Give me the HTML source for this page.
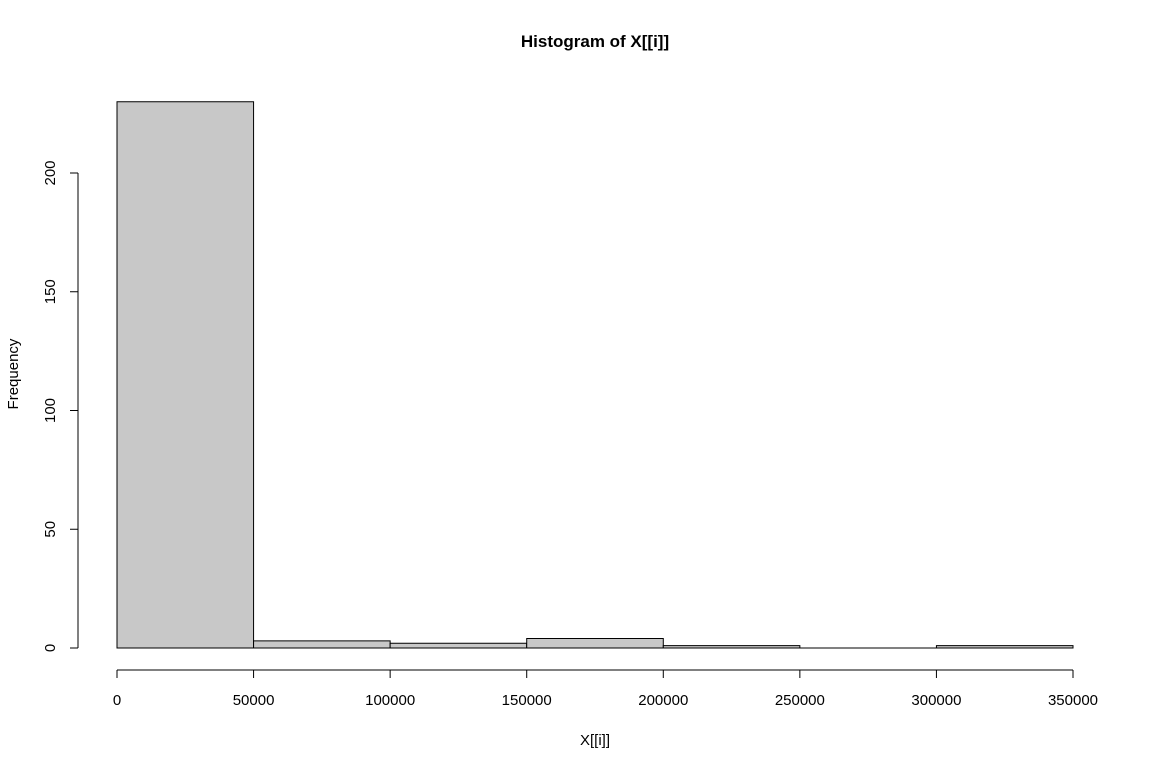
<!DOCTYPE html>
<html><head><meta charset="utf-8"><style>
body{margin:0;background:#fff;}
svg{display:block;font-family:"Liberation Sans",Arial,sans-serif;}
</style></head><body>
<svg id="chart" width="1152" height="768" viewBox="0 0 1152 768">
<text x="595" y="47" text-anchor="middle" font-size="17" font-weight="bold">Histogram of X[[i]]</text>
<text x="595" y="745" text-anchor="middle" font-size="15">X[[i]]</text>
<text transform="translate(18,374) rotate(-90)" text-anchor="middle" font-size="15">Frequency</text>
<g id="bars"></g><g id="xaxis"></g><g id="yaxis"></g>
</svg>
<script>
const binEdges=[0,50000,100000,150000,200000,250000,300000,350000];
const counts=[230,3,2,4,1,0,1];
const xTicks=[0,50000,100000,150000,200000,250000,300000,350000];
const yTicks=[0,50,100,150,200];
const NS="http://www.w3.org/2000/svg";
const x=v=>117+v*(1073-117)/350000;
const y=v=>648-v*(648-173)/200;
function mk(t,a,p){const e=document.createElementNS(NS,t);for(const k in a)e.setAttribute(k,a[k]);p.appendChild(e);return e;}
const bars=document.getElementById('bars');
counts.forEach((c,i)=>{
 let r;
 if(c===0){
  r=mk('line',{x1:x(binEdges[i]),x2:x(binEdges[i+1]),y1:y(0),y2:y(0),stroke:'#000','stroke-width':1},bars);
 } else {
  r=mk('rect',{x:x(binEdges[i]),y:y(c),width:x(binEdges[i+1])-x(binEdges[i]),height:y(0)-y(c),fill:'#c8c8c8',stroke:'#000','stroke-width':1},bars);
 }
 
 
});
const xa=document.getElementById('xaxis');
const xl=mk('line',{x1:x(xTicks[0]),x2:x(xTicks[xTicks.length-1]),y1:670,y2:670,stroke:'#000'},xa);


xTicks.forEach(t=>{
 mk('line',{x1:x(t),x2:x(t),y1:670,y2:678,stroke:'#000'},xa);
 const tx=mk('text',{x:x(t),y:705,'text-anchor':'middle','font-size':15},xa);tx.textContent=t;
 
 
});
const ya=document.getElementById('yaxis');
const yl=mk('line',{x1:78,x2:78,y1:y(yTicks[0]),y2:y(yTicks[yTicks.length-1]),stroke:'#000'},ya);


yTicks.forEach(t=>{
 mk('line',{x1:70,x2:78,y1:y(t),y2:y(t),stroke:'#000'},ya);
 const tx=mk('text',{'text-anchor':'middle','font-size':15,transform:`translate(55,${y(t)}) rotate(-90)`},ya);tx.textContent=t;
 
 
});
</script>
</body></html>
